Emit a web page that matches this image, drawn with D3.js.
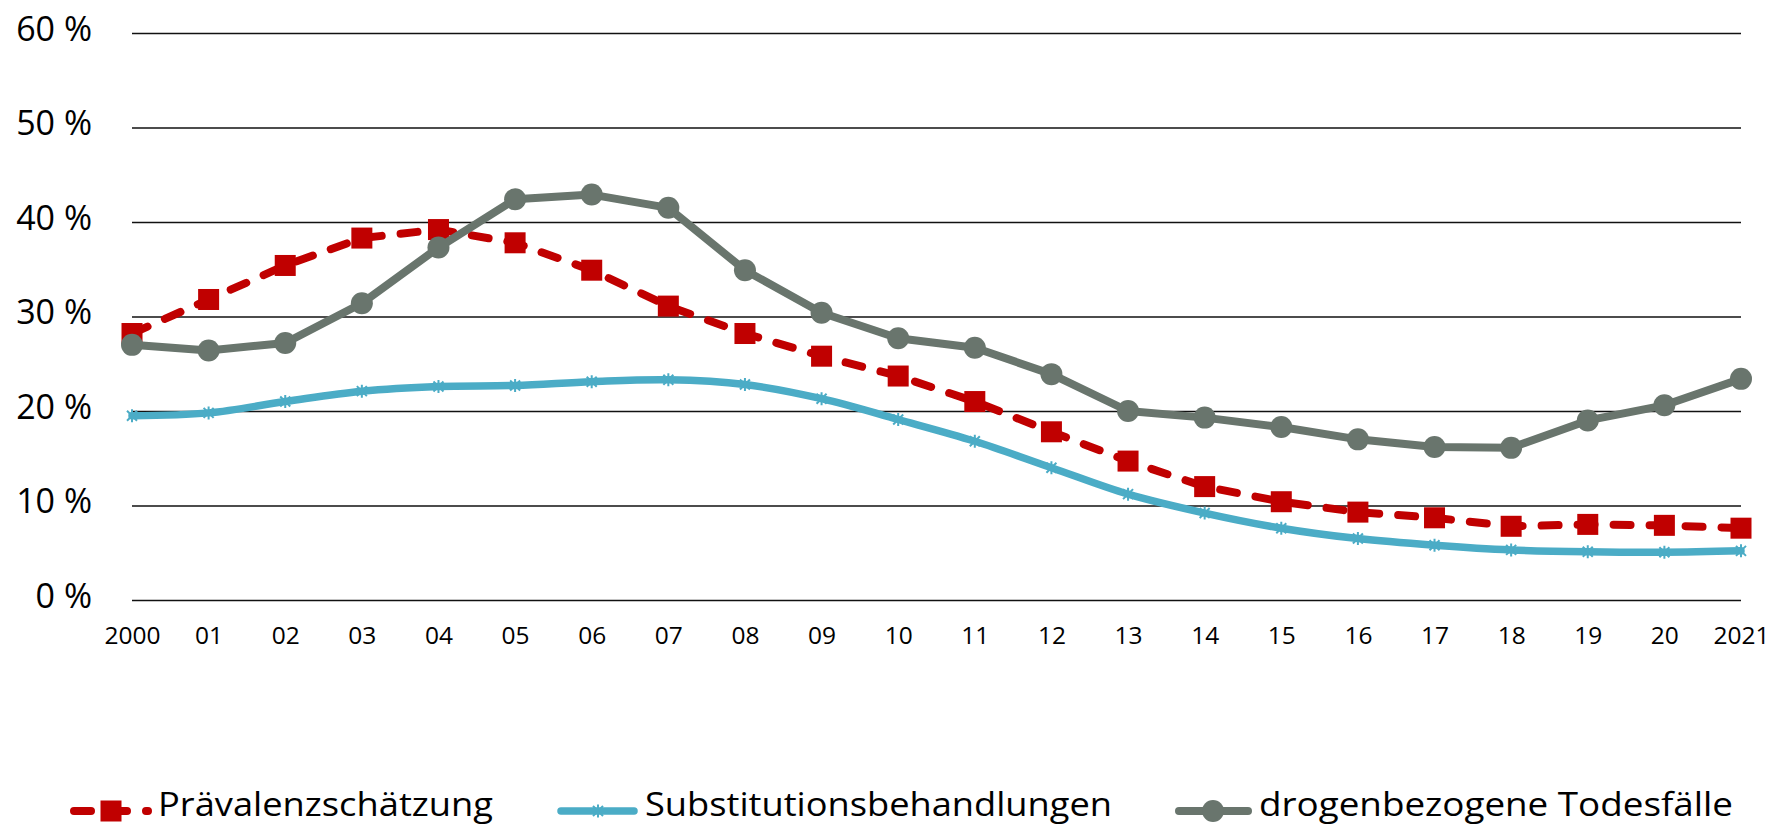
<!DOCTYPE html>
<html>
<head>
<meta charset="utf-8">
<script src="https://cdn.jsdelivr.net/npm/d3@7"></script>
<style>
  html, body { margin: 0; padding: 0; background: #fff; }
  svg { display: block; }
  text { font-family: "Open Sans", "DejaVu Sans", sans-serif; fill: #000; }
</style>
</head>
<body>
<svg id="chart" width="1771" height="825"></svg>
<script>
// ---- data ----
const years = ["2000","01","02","03","04","05","06","07","08","09","10","11","12","13","14","15","16","17","18","19","20","2021"];
const praevalenz   = [28.2, 31.8, 35.4, 38.3, 39.2, 37.8, 34.9, 31.1, 28.2, 25.8, 23.7, 21.0, 17.8, 14.7, 12.0, 10.4, 9.3, 8.7, 7.8, 8.0, 7.9, 7.6];
const substitution = [19.5, 19.8, 21.0, 22.1, 22.6, 22.7, 23.1, 23.3, 22.8, 21.3, 19.1, 16.8, 14.0, 11.2, 9.2, 7.6, 6.5, 5.8, 5.3, 5.1, 5.05, 5.2];
const todesfaelle  = [27.0, 26.4, 27.2, 31.4, 37.3, 42.4, 42.9, 41.5, 34.9, 30.4, 27.7, 26.7, 23.9, 20.0, 19.3, 18.3, 17.0, 16.2, 16.1, 19.0, 20.6, 23.4];
const yTicks = [0, 10, 20, 30, 40, 50, 60];
const seriesNames = ["Prävalenzschätzung", "Substitutionsbehandlungen", "drogenbezogene Todesfälle"];

// ---- layout ----
const svg = d3.select("#chart");
const plotLeft = 132, plotRight = 1741, plotTop = 33, plotBottom = 600;
const x = d3.scalePoint().domain(years).range([plotLeft, plotRight]);
const y = d3.scaleLinear().domain([0, 60]).range([plotBottom, plotTop]);

const RED = "#C00000", BLUE = "#4BACC6", GRAY = "#69756D";

// gridlines + y labels
const yAxis = svg.append("g")
  .attr("transform", `translate(${plotLeft},0)`)
  .call(d3.axisLeft(y).tickValues(yTicks).tickSize(-(plotRight - plotLeft)).tickPadding(40)
    .tickFormat(d => d + " %"));
yAxis.select(".domain").remove();
yAxis.selectAll(".tick line").attr("stroke", "#111").attr("stroke-width", 1.6);
yAxis.selectAll(".tick text")
  .attr("dy", "0.22em")
  .style("font-size", "34px")
  .style("font-family", "'Open Sans', sans-serif");

// x labels
const xAxis = svg.append("g")
  .attr("transform", `translate(0,${plotBottom})`)
  .call(d3.axisBottom(x).tickSize(0));
xAxis.select(".domain").remove();
xAxis.selectAll(".tick text")
  .attr("y", 44).attr("dy", 0)
  .style("font-size", "24.5px")
  .style("font-family", "'Open Sans', sans-serif");

// ---- series ----
const idx = d3.range(years.length);

// Substitution (smooth)
const lineBlue = d3.line().x(i => x(years[i])).y(i => y(substitution[i])).curve(d3.curveCardinal);
svg.append("path").attr("d", lineBlue(idx))
  .attr("fill", "none").attr("stroke", BLUE).attr("stroke-width", 7.5)
  .attr("stroke-linejoin", "round").attr("stroke-linecap", "round");
const starPath = "M-5,-5L5,5M-5,5L5,-5M0,-6.5L0,6.5";
svg.append("g").selectAll("path").data(idx).join("path")
  .attr("transform", i => `translate(${x(years[i])},${y(substitution[i])})`)
  .attr("d", starPath).attr("stroke", BLUE).attr("stroke-width", 2).attr("fill", "none");

// Prävalenz (dashed, squares)
const lineRed = d3.line().x(i => x(years[i])).y(i => y(praevalenz[i]));
svg.append("path").attr("d", lineRed(idx))
  .attr("fill", "none").attr("stroke", RED).attr("stroke-width", 8)
  .attr("stroke-dasharray", "17 19").attr("stroke-linecap", "round");
const SQ = 21;
svg.append("g").selectAll("rect").data(idx).join("rect")
  .attr("x", i => x(years[i]) - SQ / 2).attr("y", i => y(praevalenz[i]) - SQ / 2)
  .attr("width", SQ).attr("height", SQ).attr("fill", RED);

// Todesfälle (solid, circles)
const lineGray = d3.line().x(i => x(years[i])).y(i => y(todesfaelle[i]));
svg.append("path").attr("d", lineGray(idx))
  .attr("fill", "none").attr("stroke", GRAY).attr("stroke-width", 8)
  .attr("stroke-linejoin", "round");
svg.append("g").selectAll("circle").data(idx).join("circle")
  .attr("cx", i => x(years[i])).attr("cy", i => y(todesfaelle[i]))
  .attr("r", 11).attr("fill", GRAY);

// ---- legend ----
const legY = 811, legText = 816, legFont = "33px";
const leg = svg.append("g");
function legendText(xPos, label, width) {
  leg.append("text").attr("x", xPos).attr("y", legText).style("font-size", legFont)
    .attr("textLength", width).attr("lengthAdjust", "spacingAndGlyphs").text(label);
}
// red
leg.append("line").attr("x1", 74).attr("x2", 148).attr("y1", legY).attr("y2", legY)
  .attr("stroke", RED).attr("stroke-width", 8).attr("stroke-dasharray", "17 19").attr("stroke-linecap", "round");
leg.append("rect").attr("x", 111 - SQ / 2).attr("y", legY - SQ / 2).attr("width", SQ).attr("height", SQ).attr("fill", RED);
legendText(158, seriesNames[0], 335);
// blue
leg.append("line").attr("x1", 561).attr("x2", 634).attr("y1", legY).attr("y2", legY)
  .attr("stroke", BLUE).attr("stroke-width", 7.5).attr("stroke-linecap", "round");
leg.append("path").attr("transform", `translate(598,${legY})`).attr("d", starPath)
  .attr("stroke", BLUE).attr("stroke-width", 2).attr("fill", "none");
legendText(645, seriesNames[1], 467);
// gray
leg.append("line").attr("x1", 1179).attr("x2", 1248).attr("y1", legY).attr("y2", legY)
  .attr("stroke", GRAY).attr("stroke-width", 8).attr("stroke-linecap", "round");
leg.append("circle").attr("cx", 1213).attr("cy", legY).attr("r", 11).attr("fill", GRAY);
legendText(1259, seriesNames[2], 474);
</script>
</body>
</html>
